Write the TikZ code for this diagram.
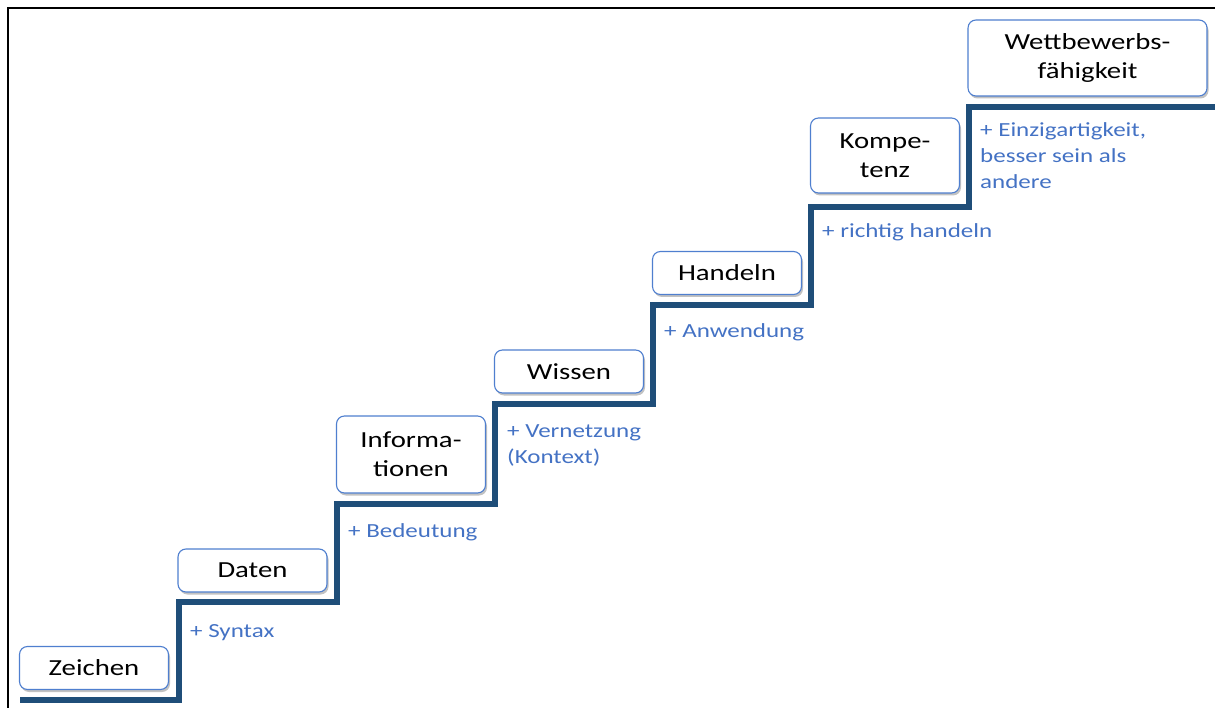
\documentclass[tikz,border=0pt]{standalone}
\usepackage{fontspec}
\setmainfont{Carlito}
\newfontfamily\stfont[FakeStretch=1.25]{Carlito}
\usetikzlibrary{shadows}
\definecolor{stair}{HTML}{1F4E79}
\definecolor{lbl}{HTML}{4472C4}
\definecolor{boxline}{HTML}{4F7FCF}
\begin{document}
\begin{tikzpicture}[x=1pt,y=-1pt,
  stepbox/.style={draw=boxline, line width=1.1pt, fill=white, rounded corners=8pt,
    minimum width=149pt, minimum height=43pt, inner sep=0pt, align=center,
    font=\stfont\fontsize{23}{29}\selectfont, text=black,
    drop shadow={shadow xshift=1.5pt, shadow yshift=-2.5pt, opacity=0.4, fill=black!60}},
  addlabel/.style={anchor=base west, inner sep=0pt, align=left, text=lbl,
    font=\stfont\fontsize{20}{26}\selectfont},
  stairline/.style={draw=stair, line width=6pt}]
\useasboundingbox (0,0) rectangle (1215,708);
% frame
\draw[line width=2.2pt] (8,708) -- (8,8) -- (1215,8);
% staircase
\coordinate (s0) at (20,700);
\coordinate (s7) at (1215,107);
\draw[stairline] (s0) -- (179,700) -- (179,602) -- (337,602) -- (337,504) -- (495,504)
  -- (495,404) -- (653,404) -- (653,305) -- (811,305) -- (811,207) -- (969,207)
  -- (969,107) -- (s7);
% boxes
\node[stepbox] (zeichen) at (94,668) {Zeichen};
\node[stepbox] (daten) at (252.5,570.5) {Daten};
\node[stepbox, minimum height=77pt] (info) at (411,454.5) {Informa-\\tionen};
\node[stepbox] (wissen) at (569,371.5) {Wissen};
\node[stepbox] (handeln) at (727,273) {Handeln};
\node[stepbox, minimum height=75pt] (kompetenz) at (885,155.5) {Kompe-\\tenz};
\node[stepbox, minimum width=239pt, minimum height=76pt] (wettbewerb) at (1087.5,58) {Wettbewerbs-\\fähigkeit};
% labels (base anchor = baseline of last line)
\node[addlabel] (l1) at (190,637) {+ Syntax};
\node[addlabel] (l2) at (348,537) {+ Bedeutung};
\node[addlabel] (l3) at (507,463) {+ Vernetzung\\(Kontext)};
\node[addlabel] (l4) at (664,338) {+ Anwendung};
\node[addlabel] (l5) at (822,238) {+ richtig handeln};
\node[addlabel] (l6) at (980,189) {+ Einzigartigkeit,\\besser sein als\\andere};
\end{tikzpicture}
\end{document}
